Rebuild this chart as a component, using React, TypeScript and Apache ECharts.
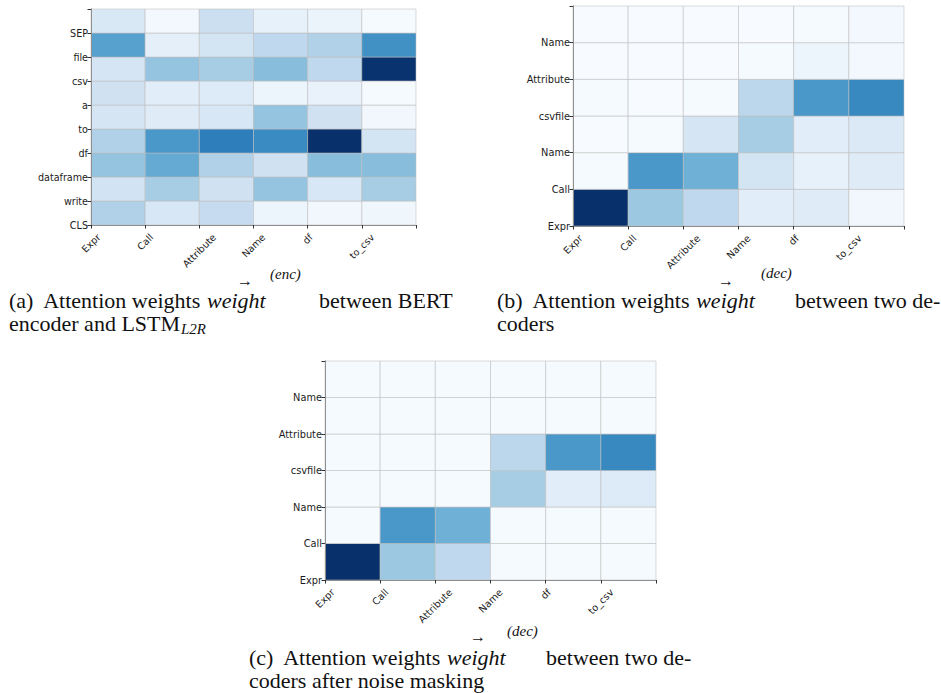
import React, { useEffect, useRef } from "react";
import * as echarts from "echarts";

// ---------- data ----------
const xCats = ["Expr", "Call", "Attribute", "Name", "df", "to_csv"];
const yCatsA = ["CLS", "write", "dataframe", "df", "to", "a", "csv", "file", "SEP"];
const yCatsB = ["Expr", "Call", "Name", "csvfile", "Attribute", "Name"];

// rows listed from bottom (index 0) to top
const valuesA = [
  [0.32, 0.16, 0.25, 0.05, 0.03, 0.04],
  [0.19, 0.35, 0.2, 0.4, 0.16, 0.35],
  [0.4, 0.52, 0.32, 0.2, 0.43, 0.43],
  [0.32, 0.6, 0.7, 0.65, 1.0, 0.18],
  [0.17, 0.12, 0.16, 0.4, 0.2, 0.03],
  [0.2, 0.11, 0.13, 0.05, 0.07, 0.01],
  [0.17, 0.4, 0.35, 0.43, 0.27, 0.99],
  [0.56, 0.09, 0.18, 0.27, 0.32, 0.63],
  [0.15, 0.02, 0.22, 0.08, 0.06, 0.01],
];
const valuesB = [
  [1.0, 0.38, 0.27, 0.11, 0.12, 0.03],
  [0.01, 0.6, 0.49, 0.18, 0.08, 0.12],
  [0.0, 0.01, 0.17, 0.35, 0.11, 0.14],
  [0.01, 0.0, 0.01, 0.28, 0.6, 0.66],
  [0.0, 0.0, 0.0, 0.01, 0.05, 0.02],
  [0.0, 0.0, 0.0, 0.0, 0.01, 0.02],
];
const valuesC = [
  [1.0, 0.38, 0.27, 0.01, 0.01, 0.01],
  [0.01, 0.6, 0.49, 0.01, 0.01, 0.01],
  [0.01, 0.01, 0.01, 0.35, 0.11, 0.13],
  [0.01, 0.01, 0.01, 0.28, 0.6, 0.66],
  [0.01, 0.01, 0.01, 0.01, 0.01, 0.01],
  [0.01, 0.01, 0.01, 0.01, 0.01, 0.01],
];

const blues = [
  "#f7fbff", "#deebf7", "#c6dbef", "#9ecae1", "#6baed6",
  "#4292c6", "#2171b5", "#08519c", "#08306b",
];

function toData(rows: number[][]) {
  const out: number[][] = [];
  rows.forEach((row, j) => row.forEach((v, i) => out.push([i, j, v])));
  return out;
}

const FRAME = "#8f8f8f";
const LABEL = "#1c1c1c";
const SANS = "DejaVu Sans";

let measureCtx: CanvasRenderingContext2D | null = null;
function textWidth(t: string, fs: number) {
  if (!measureCtx) measureCtx = document.createElement("canvas").getContext("2d");
  if (!measureCtx) return t.length * fs * 0.6;
  measureCtx.font = `${fs}px "${SANS}"`;
  return measureCtx.measureText(t).width;
}

// rotated labels centred under their tick (matplotlib style)
function xRich(fs: number) {
  const rich: Record<string, any> = {};
  xCats.forEach((c, i) => {
    const L = textWidth(c, fs);
    rich["e" + i] = {
      fontSize: fs, fontFamily: SANS, color: LABEL,
      padding: [L / 2, L / 2, 0, 0],
    };
  });
  return rich;
}

function makeAxes(gi: number, nY: number, yCats: string[], fs: number) {
  const xs = [
    {
      type: "value", gridIndex: gi, min: 0, max: 6, interval: 1, position: "bottom", z: 5,
      axisLine: { show: true, lineStyle: { color: FRAME, width: 1 } },
      axisTick: { show: true, length: 3.5, lineStyle: { color: "#333" } },
      splitLine: { show: false },
      axisLabel: {
        rotate: 45, margin: 10.5, fontSize: fs, color: LABEL, fontFamily: SANS,
        align: "center", verticalAlign: "middle",
        formatter: (v: number) => (xCats[v] ? `{e${v}|${xCats[v]}}` : ""),
        rich: xRich(fs),
      },
    },
    {
      type: "value", gridIndex: gi, min: 0, max: 6, interval: 1, position: "top", z: 5,
      axisLine: { show: true, lineStyle: { color: FRAME, width: 1 } },
      axisTick: { show: false }, axisLabel: { show: false }, splitLine: { show: false },
    },
  ];
  const ys = [
    {
      type: "value", gridIndex: gi, min: 0, max: nY, interval: 1, position: "left", z: 5,
      axisLine: { show: true, lineStyle: { color: FRAME, width: 1 } },
      axisTick: { show: true, length: 3.5, lineStyle: { color: "#333" } },
      splitLine: { show: false },
      axisLabel: {
        margin: 3, fontSize: fs, color: LABEL, fontFamily: SANS,
        formatter: (v: number) => yCats[v] ?? "",
      },
    },
    {
      type: "value", gridIndex: gi, min: 0, max: nY, interval: 1, position: "right", z: 5,
      axisLine: { show: true, lineStyle: { color: FRAME, width: 1 } },
      axisTick: { show: false }, axisLabel: { show: false }, splitLine: { show: false },
    },
  ];
  return { xs, ys };
}

function cellSeries(gi: number, rows: number[][]) {
  return {
    type: "custom",
    xAxisIndex: gi * 2,
    yAxisIndex: gi * 2,
    encode: { x: 0, y: 1 },
    data: toData(rows),
    renderItem: (params: any, api: any) => {
      const x = api.value(0);
      const y = api.value(1);
      const p0 = api.coord([x, y + 1]);
      const p1 = api.coord([x + 1, y]);
      return {
        type: "rect",
        shape: { x: p0[0], y: p0[1], width: p1[0] - p0[0], height: p1[1] - p0[1] },
        style: { fill: api.visual("color"), stroke: "rgba(190,190,190,0.55)", lineWidth: 1 },
      };
    },
  };
}

const SERIF = "Liberation Serif";
function txt(x: number, y: number, text: string, size = 22, italic = false) {
  return {
    type: "text", x, y, silent: true,
    style: {
      text, fill: "#111", fontFamily: SERIF, fontSize: size,
      fontStyle: italic ? "italic" : "normal", verticalAlign: "middle", align: "left",
    },
  };
}
function line1(x: number, y: number, label: string) {
  return {
    type: "text", x, y, silent: true,
    style: {
      text: `{n|${label}  Attention weights }{i|weight}`,
      fill: "#111", fontFamily: SERIF, fontSize: 22, verticalAlign: "middle", align: "left",
      rich: {
        n: { fontFamily: SERIF, fontSize: 22, fill: "#111" },
        i: { fontFamily: SERIF, fontSize: 22, fontStyle: "italic", fill: "#111" },
      },
    },
  };
}

export default function App() {
  const ref = useRef<HTMLDivElement>(null);
  useEffect(() => {
    document.body.style.margin = "0";
    if (!ref.current) return;
    const chart = echarts.init(ref.current, undefined, { renderer: "svg" });
    const a = makeAxes(0, 9, yCatsA, 9.6);
    const b = makeAxes(1, 6, yCatsB, 9.8);
    const c = makeAxes(2, 6, yCatsB, 9.8);
    chart.setOption({
      animation: false,
      backgroundColor: "#ffffff",
      grid: [
        { left: 91, top: 9, width: 325, height: 216 },
        { left: 573, top: 6, width: 331, height: 220 },
        { left: 325, top: 361, width: 331, height: 219 },
      ],
      xAxis: [...a.xs, ...b.xs, ...c.xs],
      yAxis: [...a.ys, ...b.ys, ...c.ys],
      visualMap: {
        type: "continuous", show: false, min: 0, max: 1, dimension: 2,
        seriesIndex: [0, 1, 2], inRange: { color: blues },
      },
      series: [cellSeries(0, valuesA), cellSeries(1, valuesB), cellSeries(2, valuesC)],
      graphic: [
        // (a)
        line1(9, 300, "(a)"),
        txt(237, 280, "→", 16),
        txt(270, 274, "(enc)", 15, true),
        txt(319, 300, "between BERT"),
        txt(9, 323.5, "encoder and LSTM"),
        txt(181, 328.5, "L2R", 15, true),
        // (b)
        line1(497, 300, "(b)"),
        txt(718, 280, "→", 16),
        txt(761, 273, "(dec)", 15, true),
        txt(795, 300, "between two de-"),
        txt(497, 323.5, "coders"),
        // (c)
        line1(249, 657, "(c)"),
        txt(470, 636.5, "→", 16),
        txt(507, 631, "(dec)", 15, true),
        txt(546, 657, "between two de-"),
        txt(249, 680.5, "coders after noise masking"),
      ],
    });
    return () => chart.dispose();
  }, []);
  return <div ref={ref} style={{ width: 941, height: 693 }} />;
}
